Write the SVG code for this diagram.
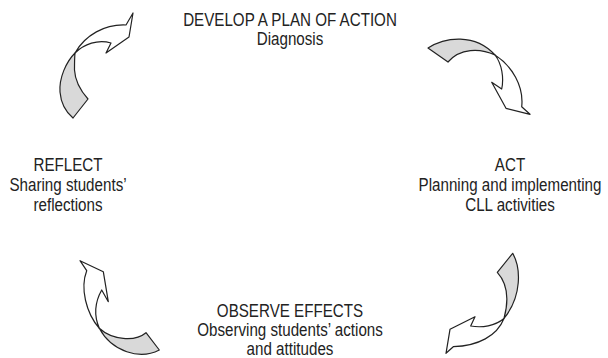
<svg xmlns="http://www.w3.org/2000/svg" width="608" height="358" viewBox="0 0 608 358">
<style>
.t{font-family:"Liberation Sans",Arial,sans-serif;font-size:18.5px;fill:#222;text-anchor:middle}
.g{fill:#d9d9d9;stroke:#222;stroke-width:1.2;stroke-linejoin:round}
.w{fill:#fff;stroke:#222;stroke-width:1.2;stroke-linejoin:round}
</style>
<rect width="608" height="358" fill="#fff"/>
<g id="connectors">
<g id="arrow-top-left">
<path class="g" d="M75,53 C66,62 59,78 60,92 C61,104 67,113 73,118 L88,99 C80,90 75,80 74.5,70 C74.5,63 74.5,58 75,53 Z"/>
<path class="w" d="M75,53 C85,35 105,24 126,25 L133,13 L129,37 L106,53 L111,43 C98,39 84,44 75,53 Z"/>
</g>
<g id="arrow-top-right">
<path class="g" d="M428,48 C445,37 475,33 495,55 C480,48 460,48 448,62 Z"/>
<path class="w" d="M495,55 C512,66 524,86 521.7,106.7 L530,114.3 L506,108.3 L491.7,82.3 L501.7,89 C504,78 502,64 495,55 Z"/>
</g>
<g id="arrow-bottom-right">
<path class="g" d="M512.7,253.3 C521,268 522,296 504,318.5 C509,300 508,284 497.3,272.3 Z"/>
<path class="w" d="M504,318.5 C495,326 482,328 470.7,326 L475,316.7 L450,329.3 L446,353.3 L453.3,346.7 C478,346 497,336 504,318.5 Z"/>
</g>
<g id="arrow-bottom-left">
<path class="g" d="M146,332.7 L159.3,350 C140,360 112,352 99.3,328.3 C112,340 135,342 146,332.7 Z"/>
<path class="w" d="M99.3,328.3 C86,313 80,288 86.7,270.7 L80,260.7 L103.3,271.7 L108.3,301.7 L101.7,290 C95,302 94,316 99.3,328.3 Z"/>
</g>
</g>
<g id="node-develop">
<text class="t" transform="translate(290,26) scale(0.82,1)">DEVELOP A PLAN OF ACTION</text>
<text class="t" transform="translate(290,45) scale(0.82,1)">Diagnosis</text>
</g>
<g id="node-act">
<text class="t" transform="translate(510,171) scale(0.82,1)">ACT</text>
<text class="t" transform="translate(510,191) scale(0.82,1)">Planning and implementing</text>
<text class="t" transform="translate(510,211) scale(0.82,1)">CLL activities</text>
</g>
<g id="node-observe">
<text class="t" transform="translate(290,316.5) scale(0.82,1)">OBSERVE EFFECTS</text>
<text class="t" transform="translate(290,335.5) scale(0.82,1)">Observing students’ actions</text>
<text class="t" transform="translate(290,354.5) scale(0.82,1)">and attitudes</text>
</g>
<g id="node-reflect">
<text class="t" transform="translate(68,171) scale(0.82,1)">REFLECT</text>
<text class="t" transform="translate(68,191) scale(0.82,1)">Sharing students’</text>
<text class="t" transform="translate(68,211) scale(0.82,1)">reflections</text>
</g>
</svg>
